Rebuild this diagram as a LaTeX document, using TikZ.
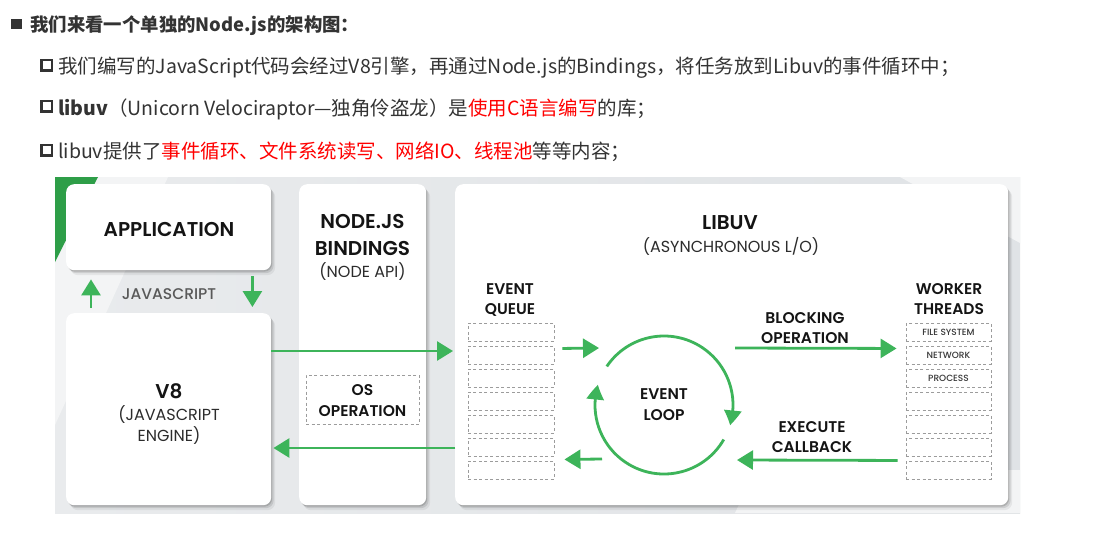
\documentclass[tikz,border=0pt]{standalone}
\usepackage{fontspec}
\setmainfont{Poppins}
\newfontfamily\pop{Poppins}
\newfontfamily\popm{Poppins Medium}
\newfontfamily\pops{Poppins SemiBold}
\newfontfamily\cjk{Noto Sans CJK SC}
\usetikzlibrary{arrows.meta,bending,shadows,calc}
\definecolor{gr}{HTML}{3DB45A}
\definecolor{dgr}{HTML}{2E9E48}
\definecolor{bgA}{HTML}{E9EBED}
\definecolor{bgB}{HTML}{E0E3E6}
\definecolor{band}{HTML}{F3F4F5}
\definecolor{txt}{HTML}{333333}
\definecolor{dashc}{HTML}{9C9C9C}
\definecolor{ink}{HTML}{141414}
\begin{document}
\begin{tikzpicture}[x=1pt,y=1pt,
  garrow/.style={draw=gr, fill=gr, line width=2.8pt, -{Triangle[length=16pt,width=19pt]}},
  garc/.style={draw=gr, fill=none, line width=2.8pt, -{Triangle[length=15pt,width=17pt,bend]}},
  softshadow/.style={
    drop shadow={shadow xshift=1pt,shadow yshift=-1.5pt,opacity=.14,fill=black},
    drop shadow={shadow xshift=2.5pt,shadow yshift=-3pt,opacity=.10,fill=black},
    drop shadow={shadow xshift=4pt,shadow yshift=-5pt,opacity=.06,fill=black}},
  box/.style={fill=white, rounded corners=8pt, inner sep=0, anchor=north west, softshadow},
  hd/.style={anchor=base, inner sep=0, text=ink, font=\pops\fontsize{20}{24}\selectfont},
  md/.style={anchor=base, inner sep=0, text=ink, font=\pops\fontsize{15.5}{19}\selectfont},
  sub/.style={anchor=base, inner sep=0, text=ink!90, font=\pop\fontsize{16}{19}\selectfont},
  dbox/.style={draw=dashc, dash pattern=on 3pt off 2.5pt, line width=0.9pt, minimum width=86pt, minimum height=17.5pt, inner sep=0, anchor=north, text=ink!85, font=\popm\fontsize{9}{10}\selectfont},
  chk/.style={draw=txt, line width=2.5pt, minimum size=10.5pt, inner sep=0},
  line/.style={anchor=base west, inner sep=0, text=txt, font=\cjk\fontsize{19.5}{22}\selectfont}
]
\useasboundingbox (0,0) rectangle (1105,-539);
\fill[white] (0,0) rectangle (1105,-539);

% ---- text above ----
\node[fill=txt, minimum size=10.5pt, inner sep=0] (b0) at (16.5,-24) {};
\node[anchor=base west, inner sep=0, text=txt, font=\cjk\bfseries\fontsize{18.4}{22}\selectfont] (t0) at (30,-31) {我们来看一个单独的Node.js的架构图：};
\node[chk] (c1) at (46.5,-65) {};
\node[line] (t1) at (58,-73) {我们编写的JavaScript代码会经过V8引擎，再通过Node.js的Bindings，将任务放到Libuv的事件循环中；};
\node[chk] (c2) at (46.5,-106) {};
\node[line] (t2) at (58,-115) {\textbf{libuv}（Unicorn Velociraptor—独角伶盗龙）是\textcolor{red}{使用C语言编写}的库；};
\node[chk] (c3) at (46.5,-150) {};
\node[line] (t3) at (58,-158) {libuv提供了\textcolor{red}{事件循环、文件系统读写、网络IO、线程池}等等内容；};

% ---- diagram background ----
\shade[left color=bgA, right color=bgB] (55,-177) rectangle (1020,-513);
\fill[band] (98,-177) -- (168,-177) -- (55,-425) -- (55,-262) -- cycle;
\fill[dgr] (55,-177) -- (98,-177) -- (55,-262) -- cycle;
\fill[band] (900,-177) -- (1020,-177) -- (1020,-243) -- cycle;
\fill[band] (735,-513) -- (1020,-513) -- (1020,-470) -- (755,-470) -- cycle;

% ---- boxes ----
\node[box, minimum width=205pt, minimum height=86pt] (app) at (66,-184) {};
\node[box, minimum width=205pt, minimum height=192pt] (v8) at (66,-313) {};
\node[box, minimum width=127pt, minimum height=321pt] (bind) at (299,-184) {};
\node[box, minimum width=553pt, minimum height=321pt] (libuv) at (455,-184) {};

% ---- labels ----
\node[hd] (appl) at (169,-236) {APPLICATION};
\node[anchor=base, inner sep=0, text=black!65, font=\popm\fontsize{15.5}{18}\selectfont] (js) at (169,-299) {JAVASCRIPT};
\node[hd] (v8a) at (169,-398) {V8};
\node[sub] (v8b) at (169,-420) {(JAVASCRIPT};
\node[sub] (v8c) at (169,-441) {ENGINE)};
\node[hd] (bnda) at (362.5,-228) {NODE.JS};
\node[hd] (bndb) at (362.5,-255) {BINDINGS};
\node[sub] (bndc) at (362.5,-277) {(NODE API)};
\node[draw=dashc, dash pattern=on 3pt off 2.5pt, line width=0.9pt, minimum width=113pt, minimum height=49pt, inner sep=0] (os) at (362.5,-399.5) {};
\node[md] (osa) at (362.5,-395) {OS};
\node[md] (osb) at (362.5,-416) {OPERATION};
\node[hd] (luva) at (730,-229) {LIBUV};
\node[sub] (luvb) at (731,-252) {(ASYNCHRONOUS L/O)};
\node[md] (qa) at (510,-294) {EVENT};
\node[md] (qb) at (510,-314) {QUEUE};
\node[md] (wa) at (949,-294) {WORKER};
\node[md] (wb) at (949,-314) {THREADS};
\node[md] (ba) at (805,-323) {BLOCKING};
\node[md] (bb) at (805,-343) {OPERATION};
\node[md] (ea) at (812,-432) {EXECUTE};
\node[md] (eb) at (812,-452) {CALLBACK};

\foreach \i in {1,...,7} {
  \node[dbox] (q\i) at (511,{-323-23*(\i-1)}) {};
}
\foreach \i/\t in {1/FILE SYSTEM,2/NETWORK,3/PROCESS,4/,5/,6/,7/} {
  \node[dbox, minimum width=85pt] (w\i) at (948.5,{-323-23*(\i-1)}) {\t};
}

\node[circle, minimum size=138pt, inner sep=0, align=center, text=ink, font=\pops\fontsize{15.5}{21}\selectfont] (loop) at (664,-405) {EVENT\\LOOP};

% ---- connectors ----
\draw[garrow] ([xshift=25pt,yshift=5pt]v8.north west) -- ([xshift=25pt,yshift=-9pt]app.south west);
\draw[garrow] ([xshift=-19pt,yshift=-6pt]app.south east) -- ([xshift=-19pt,yshift=6pt]v8.north east);
\draw[garrow] ([yshift=-38pt]v8.north east) -- ([xshift=-2pt,yshift=-167pt]libuv.north west);
\draw[garrow] ([yshift=-264pt]libuv.north west) -- ([xshift=2pt,yshift=-135pt]v8.north east);
\draw[garrow] ([xshift=8pt,yshift=6.75pt]q2.east) -- ([shift={(-65pt,57pt)}]loop.center);
\draw[garrow] ([shift={(-62pt,-54pt)}]loop.center) -- ([xshift=10pt,yshift=10.75pt]q7.east);
\draw[garrow] ([shift={(71pt,57pt)}]loop.center) -- ([xshift=-9pt,yshift=6.75pt]w2.west);
\draw[garrow] ([xshift=-8pt,yshift=9.75pt]w7.west) -- ([shift={(73pt,-55pt)}]loop.center);
\draw[garc] ($(loop.center)+(146:69pt)$) arc[start angle=146, end angle=-17, radius=69pt];
\draw[garc] ($(loop.center)+(-30:69pt)$) arc[start angle=-30, end angle=-197, radius=69pt];
\end{tikzpicture}
\end{document}
